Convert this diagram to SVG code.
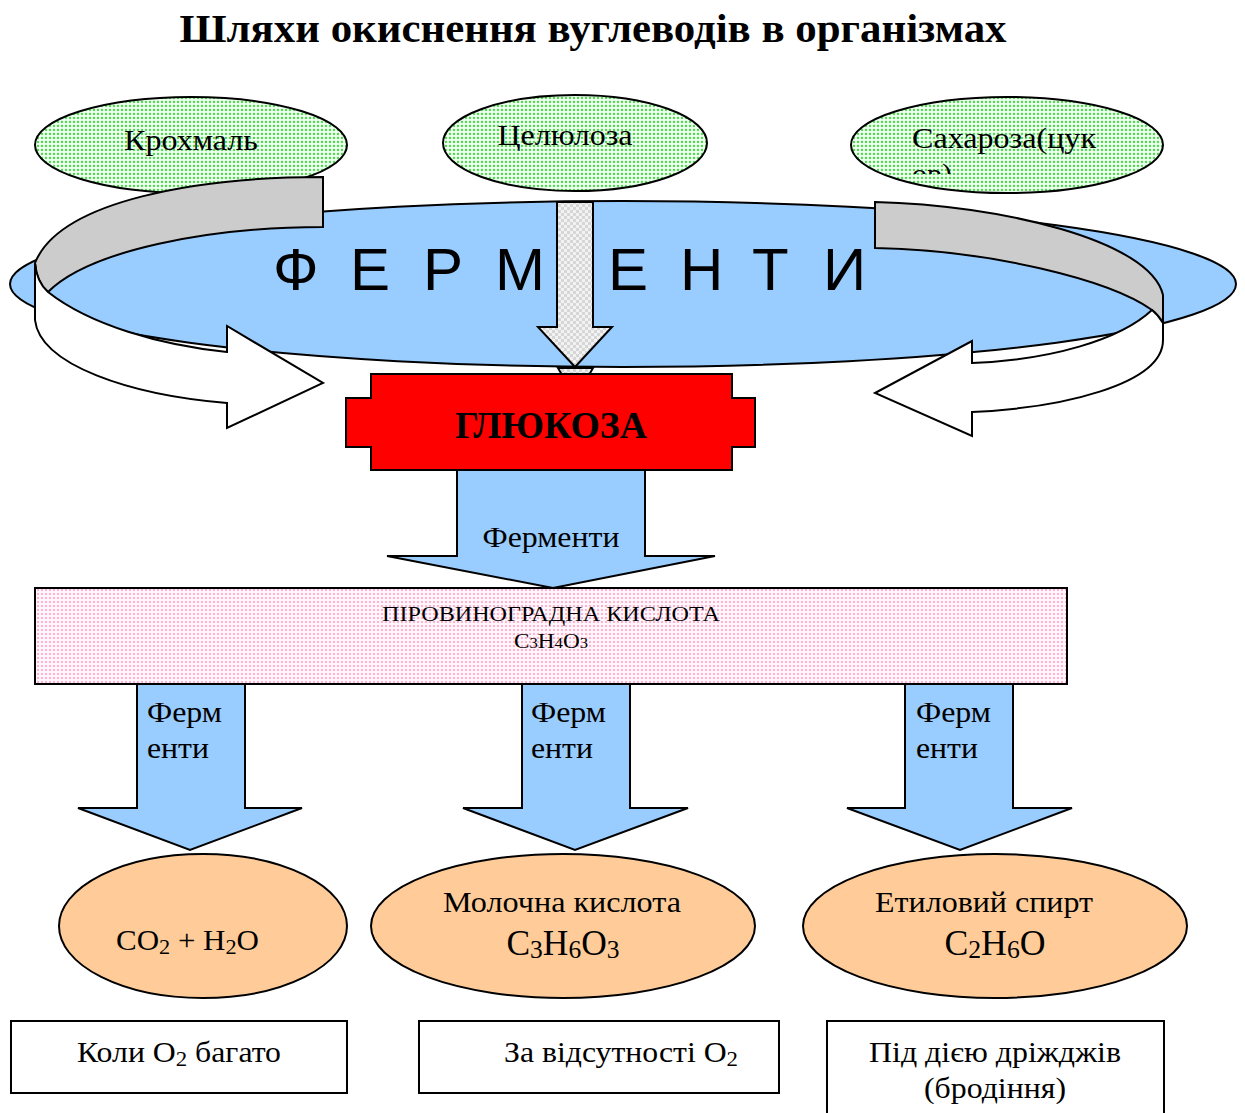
<svg xmlns="http://www.w3.org/2000/svg" width="1245" height="1113" viewBox="0 0 1245 1113">
<defs>
<pattern id="pGreen" width="4" height="4" patternUnits="userSpaceOnUse"><rect width="4" height="4" fill="#effff0"/><circle cx="2" cy="2" r="1.15" fill="#44dd44"/></pattern>
<pattern id="pPink" width="4" height="4" patternUnits="userSpaceOnUse"><rect width="4" height="4" fill="#fff6fa"/><circle cx="2" cy="2" r="1.0" fill="#ff99c8"/></pattern>
<pattern id="pGray" width="6" height="6" patternUnits="userSpaceOnUse"><rect width="6" height="6" fill="#f2f2f2"/><rect width="3" height="3" fill="#d6d6d6"/><rect x="3" y="3" width="3" height="3" fill="#d6d6d6"/></pattern>
<clipPath id="clipSach"><rect x="850" y="96" width="320" height="78"/></clipPath>
<style>
.s{stroke:#000;stroke-width:2}
.ser{font-family:"Liberation Serif","Times New Roman",serif;fill:#000}
.san{font-family:"Liberation Sans",Arial,sans-serif;fill:#000}
.blue{fill:#99ccff}
.org{fill:#ffcc99}
.lbl{font-size:30px}
.sub{font-size:0.72em}
</style>
</defs>
<rect width="1245" height="1113" fill="#fff"/>
<text class="ser" x="593" y="42" font-size="40" font-weight="bold" text-anchor="middle" textLength="827" lengthAdjust="spacingAndGlyphs">Шляхи окиснення вуглеводів в організмах</text>

<g id="krokhmal">
<ellipse cx="191" cy="145" rx="156" ry="48" fill="url(#pGreen)" class="s"/>
<text class="ser lbl" x="191" y="150" text-anchor="middle" textLength="134" lengthAdjust="spacingAndGlyphs">Крохмаль</text>
</g>
<g id="tseliuloza">
<ellipse cx="575" cy="143" rx="132" ry="48" fill="url(#pGreen)" class="s"/>
<text class="ser lbl" x="565" y="145" text-anchor="middle" textLength="135" lengthAdjust="spacingAndGlyphs">Целюлоза</text>
</g>
<g id="sakharoza">
<ellipse cx="1007" cy="145" rx="156" ry="48" fill="url(#pGreen)" class="s"/>
<text class="ser lbl" x="912" y="148" textLength="184" lengthAdjust="spacingAndGlyphs">Сахароза(цук</text>
<text class="ser lbl" x="912" y="184" clip-path="url(#clipSach)">ор)</text>
</g>

<g id="fermenty">
<ellipse cx="623" cy="284" rx="613" ry="83" class="blue s"/>
<text class="san" font-size="60" x="273 350 423 495 608 680 752 823" y="290">ФЕРМЕНТИ</text>
</g>

<g id="connectors">
<g id="arrow-left">
<path d="M323,177 L323,227 C210,227 90,250 48,292 C40,285 36,275 35,263 C60,200 200,177 323,177 Z" fill="#cccccc" class="s"/>
<path d="M35,263 C36,275 40,285 48,292 C90,325 160,345 227,352 L227,326 L323,383 L227,428 L227,403 C130,395 40,365 35,320 Z" fill="#fff" class="s"/>
</g>
<g id="arrow-right">
<path d="M875,202 C1000,205 1150,240 1163,295 L1163,323 C1160,318 1157,314 1152,310 C1110,280 990,250 875,248 Z" fill="#cccccc" class="s"/>
<path d="M1152,310 C1157,314 1160,318 1163,323 L1163,340 C1163,385 1060,408 972,412 L972,436 L875,393 L972,341 L972,363 C1050,360 1120,340 1152,310 Z" fill="#fff" class="s"/>
</g>
<g id="arrow-center">
<path d="M558,368 L593,368 L589,375 L562,375 Z" fill="url(#pGray)" class="s"/>
<path d="M557,202 L593,202 L593,327 L612,327 L575,367 L538,327 L557,327 Z" fill="url(#pGray)" class="s"/>
</g>
<g id="arrow-glucose">
<path d="M457,470 L645,470 L645,556 L715,556 L553,588 L387,556 L457,556 Z" class="blue s"/>
<text class="ser" font-size="30" x="551" y="547" text-anchor="middle" textLength="137" lengthAdjust="spacingAndGlyphs">Ферменти</text>
</g>
<g id="arrow-1">
<path d="M137,684 L245,684 L245,808 L302,808 L190,850 L78,808 L137,808 Z" class="blue s"/>
<text class="ser lbl" x="147" y="722" textLength="75" lengthAdjust="spacingAndGlyphs">Ферм</text>
<text class="ser lbl" x="147" y="758" textLength="62" lengthAdjust="spacingAndGlyphs">енти</text>
</g>
<g id="arrow-2">
<path d="M522,684 L630,684 L630,808 L688,808 L575,850 L463,808 L522,808 Z" class="blue s"/>
<text class="ser lbl" x="531" y="722" textLength="75" lengthAdjust="spacingAndGlyphs">Ферм</text>
<text class="ser lbl" x="531" y="758" textLength="62" lengthAdjust="spacingAndGlyphs">енти</text>
</g>
<g id="arrow-3">
<path d="M905,684 L1013,684 L1013,808 L1072,808 L960,850 L847,808 L905,808 Z" class="blue s"/>
<text class="ser lbl" x="916" y="722" textLength="75" lengthAdjust="spacingAndGlyphs">Ферм</text>
<text class="ser lbl" x="916" y="758" textLength="62" lengthAdjust="spacingAndGlyphs">енти</text>
</g>
</g>

<g id="glukoza">
<path d="M371,374 L732,374 L732,398 L755,398 L755,447 L732,447 L732,470 L371,470 L371,447 L346,447 L346,398 L371,398 Z" fill="#ff0000" class="s"/>
<text class="ser" x="551" y="438" font-size="37" font-weight="bold" text-anchor="middle" textLength="192" lengthAdjust="spacingAndGlyphs">ГЛЮКОЗА</text>
</g>

<g id="pirovynohradna">
<rect x="35" y="588" width="1032" height="96" fill="url(#pPink)" class="s"/>
<text class="ser" x="551" y="621" font-size="21" text-anchor="middle" textLength="338" lengthAdjust="spacingAndGlyphs">ПІРОВИНОГРАДНА КИСЛОТА</text>
<text class="ser" x="551" y="648" font-size="21" text-anchor="middle" textLength="74" lengthAdjust="spacingAndGlyphs">C<tspan font-size="15">3</tspan>H<tspan font-size="15">4</tspan>O<tspan font-size="15">3</tspan></text>
</g>

<g id="co2-h2o">
<ellipse cx="203" cy="926" rx="144" ry="72" class="org s"/>
<text class="ser lbl" x="116" y="950" textLength="143" lengthAdjust="spacingAndGlyphs">CO<tspan class="sub" dy="4">2</tspan><tspan dy="-4"> + H</tspan><tspan class="sub" dy="4">2</tspan><tspan dy="-4">O</tspan></text>
</g>
<g id="molochna">
<ellipse cx="563" cy="926" rx="192" ry="72" class="org s"/>
<text class="ser lbl" x="562" y="912" text-anchor="middle" textLength="238" lengthAdjust="spacingAndGlyphs">Молочна кислота</text>
<text class="ser" font-size="35" x="563" y="955" text-anchor="middle" textLength="113" lengthAdjust="spacingAndGlyphs">C<tspan class="sub" dy="3">3</tspan><tspan dy="-3">H</tspan><tspan class="sub" dy="3">6</tspan><tspan dy="-3">O</tspan><tspan class="sub" dy="3">3</tspan></text>
</g>
<g id="etylovyi">
<ellipse cx="995" cy="926" rx="192" ry="72" class="org s"/>
<text class="ser lbl" x="984" y="912" text-anchor="middle" textLength="218" lengthAdjust="spacingAndGlyphs">Етиловий спирт</text>
<text class="ser" font-size="35" x="995" y="955" text-anchor="middle" textLength="101" lengthAdjust="spacingAndGlyphs">C<tspan class="sub" dy="3">2</tspan><tspan dy="-3">H</tspan><tspan class="sub" dy="3">6</tspan><tspan dy="-3">O</tspan></text>
</g>

<g id="box-1">
<rect x="11" y="1021" width="336" height="72" fill="#fff" class="s"/>
<text class="ser lbl" x="179" y="1062" text-anchor="middle" textLength="204" lengthAdjust="spacingAndGlyphs">Коли O<tspan class="sub" dy="4">2</tspan><tspan dy="-4"> багато</tspan></text>
</g>
<g id="box-2">
<rect x="419" y="1021" width="360" height="72" fill="#fff" class="s"/>
<text class="ser lbl" x="504" y="1062" textLength="234" lengthAdjust="spacingAndGlyphs">За відсутності O<tspan class="sub" dy="4">2</tspan></text>
</g>
<g id="box-3">
<rect x="827" y="1021" width="337" height="100" fill="#fff" class="s"/>
<text class="ser lbl" x="995" y="1062" text-anchor="middle" textLength="252" lengthAdjust="spacingAndGlyphs">Під дією дріжджів</text>
<text class="ser lbl" x="995" y="1098" text-anchor="middle" textLength="142" lengthAdjust="spacingAndGlyphs">(бродіння)</text>
</g>
</svg>
